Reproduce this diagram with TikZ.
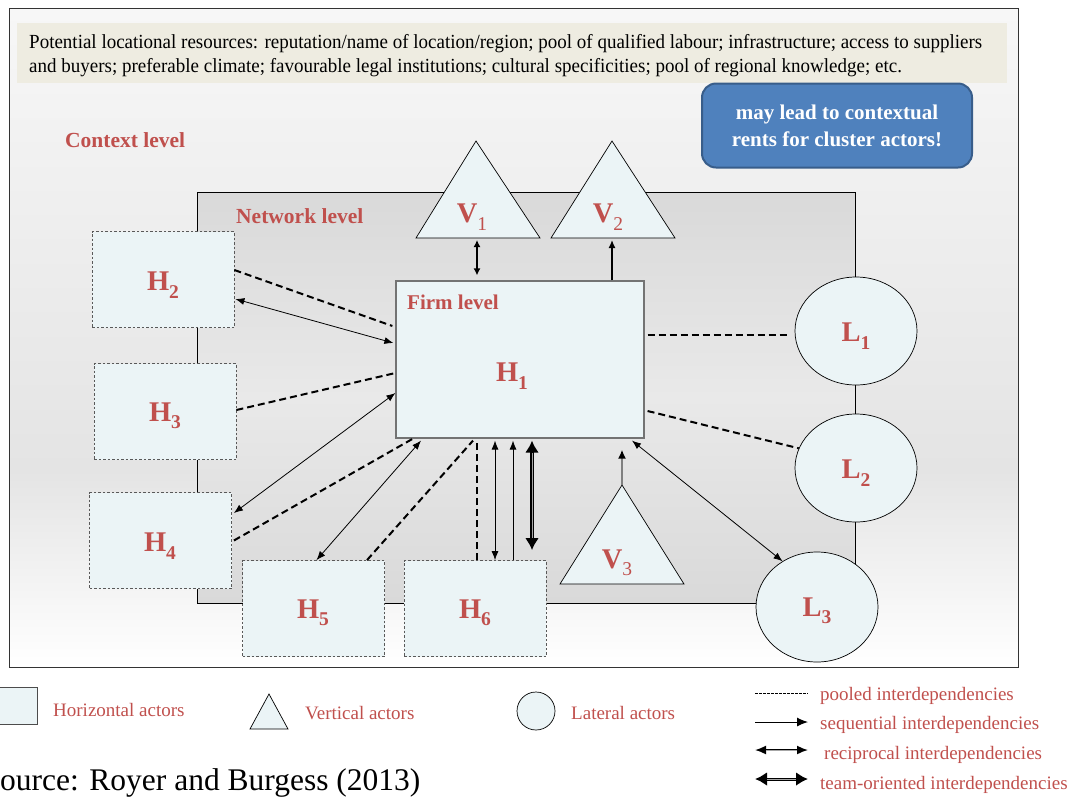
\documentclass[tikz,border=0pt]{standalone}
\usepackage{fontspec}
\setmainfont{Liberation Serif}
\newfontfamily\bandfont[FakeStretch=0.95]{Liberation Serif}
\usetikzlibrary{arrows.meta,shapes.geometric,calc}
\definecolor{actfill}{HTML}{EBF4F6}
\definecolor{lblred}{HTML}{C0504D}
\definecolor{bandfill}{HTML}{EEECE1}
\definecolor{blueb}{HTML}{4F81BD}
\definecolor{bluebd}{HTML}{385D8A}
\definecolor{ctxtop}{HTML}{F7F7F7}
\definecolor{ctxmid}{HTML}{E4E4E4}
\definecolor{nettop}{HTML}{D9D9D9}
\definecolor{netmid}{HTML}{E9E9E9}
\newcommand{\mysub}[1]{\raisebox{-7.5pt}{\fontsize{19.5}{19.5}\selectfont #1}}
\begin{document}
\begin{tikzpicture}[x=1pt,y=-1pt,
  hbox/.style={draw=black!65, dash pattern=on 2.5pt off 2pt, fill=actfill, line width=0.8pt, inner sep=0pt, minimum width=142pt, minimum height=96pt},
  lell/.style={ellipse, draw=black, fill=actfill, line width=0.7pt, inner sep=0pt, minimum width=122pt, minimum height=108pt},
  tri/.style={draw=black, fill=actfill, line width=0.7pt},
  actlbl/.style={text=lblred, font=\fontsize{28.5}{28.5}\selectfont\bfseries, inner sep=0pt},
  pooled/.style={line width=2pt, dash pattern=on 7pt off 4pt},
  seq/.style={line width=0.8pt, -{Latex[length=9pt,width=7pt]}},
  recip/.style={line width=0.8pt, {Latex[length=9pt,width=7pt]}-{Latex[length=9pt,width=7pt]}},
  legseqst/.style={line width=1pt, -{Latex[length=11pt,width=9pt]}},
  legrecst/.style={line width=1.6pt, {Latex[length=11pt,width=9pt]}-{Latex[length=11pt,width=9pt]}},
  team/.style={line width=3.4pt, {Latex[length=12pt,width=14pt]}-{Latex[length=12pt,width=14pt]}},
  teamcore/.style={line width=0.9pt, draw=black!35, shorten <=12pt, shorten >=12pt},
  lvlbl/.style={text=lblred, font=\fontsize{21.5}{22}\selectfont\bfseries, anchor=west, inner sep=0pt},
  legtxt/.style={text=lblred, font=\fontsize{19}{19}\selectfont, anchor=west, inner sep=0pt},
  bandtxt/.style={anchor=base west, inner sep=0pt, font=\fontsize{20}{24}\bandfont},
]
\useasboundingbox (0,0) rectangle (1073,796);
% context level background
\fill[top color=ctxtop, bottom color=ctxmid] (9,8) rectangle (1018,470);
\fill[top color=ctxmid, bottom color=white] (9,469.5) rectangle (1018,667);
\draw[black!80, line width=0.9pt] (9,8) rectangle (1018,667);
% band of resources
\node[fill=bandfill, minimum width=990pt, minimum height=60pt, inner sep=0pt] (band) at (512,53) {};
\node[bandtxt] (bandl1) at (29,48.5) {Potential locational resources: reputation/name of location/region; pool of qualified labour; infrastructure; access to suppliers};
\node[bandtxt] (bandl2) at (29,72.5) {and buyers; preferable climate; favourable legal institutions; cultural specificities; pool of regional knowledge; etc.};
% blue box
\node[draw=bluebd, line width=2pt, fill=blueb, rounded corners=14pt, minimum width=270pt, minimum height=84pt, text=white, font=\fontsize{21}{27}\selectfont\bfseries, align=center] (blue) at (837,125.5) {may lead to contextual\\rents for cluster actors!};
\node[lvlbl] (ctxlbl) at (65,140) {Context level};
% network level
\node[draw=black, line width=0.8pt, top color=nettop, bottom color=nettop, middle color=netmid, minimum width=658pt, minimum height=411pt, inner sep=0pt] (net) at (526,397.5) {};
\node[lvlbl] (netlbl) at (236,216) {Network level};
% vertical actors
\coordinate (v1a) at (476,141); \coordinate (v1l) at (416,238); \coordinate (v1r) at (540,238);
\draw[tri] (v1a) -- (v1r) -- (v1l) -- cycle;
\coordinate (v1b) at (477,238);
\node[actlbl] (v1) at (472,217) {V\mysub{\mdseries 1}};
\coordinate (v2a) at (612,141); \coordinate (v2l) at (551,238); \coordinate (v2r) at (675,238);
\draw[tri] (v2a) -- (v2r) -- (v2l) -- cycle;
\coordinate (v2b) at (612,238);
\node[actlbl] (v2) at (608,217) {V\mysub{\mdseries 2}};
\coordinate (v3a) at (622,485); \coordinate (v3l) at (560,584); \coordinate (v3r) at (684,584);
\draw[tri] (v3a) -- (v3r) -- (v3l) -- cycle;
\node[actlbl] (v3) at (617,563) {V\mysub{\mdseries 3}};
% horizontal actors
\node[hbox] (h2) at (163,279.5) {};
\node[actlbl] (h2l) at (163,285) {H\mysub{2}};
\node[hbox] (h3) at (165,411.5) {};
\node[actlbl] (h3l) at (165,416) {H\mysub{3}};
\node[hbox] (h4) at (160.5,540.5) {};
\node[actlbl] (h4l) at (160,546) {H\mysub{4}};
\node[hbox] (h5) at (313.5,608.5) {};
\node[actlbl] (h5l) at (313,613) {H\mysub{5}};
\node[hbox] (h6) at (475,608.5) {};
\node[actlbl] (h6l) at (475,613) {H\mysub{6}};
% firm level
\node[draw=black!55, line width=1.2pt, fill=actfill, minimum width=248pt, minimum height=157pt, inner sep=0pt] (h1) at (520,359.5) {};
\node[lvlbl, font=\fontsize{21}{22}\selectfont\bfseries] (firmlbl) at (407,302) {Firm level};
\node[actlbl] (h1l) at (512,376) {H\mysub{1}};
% lateral actors
\node[lell] (l1) at (856,331) {};
\node[actlbl] (l1l) at (856,336) {L\mysub{1}};
\node[lell] (l2) at (856,468) {};
\node[actlbl] (l2l) at (856,473) {L\mysub{2}};
\node[lell, minimum height=110pt] (l3) at (817,607) {};
\node[actlbl] (l3l) at (817,611) {L\mysub{3}};
% connectors: horizontal actors
\draw[pooled] ([yshift=9.5pt]h2.east) -- ([yshift=33.5pt,xshift=-3pt]h1.west);
\draw[recip] ([yshift=-19.5pt,xshift=1pt]h2.east) -- ([yshift=16.5pt,xshift=-2pt]h1.west);
\draw[pooled] ([yshift=1.5pt]h3.east) -- ([yshift=-13.5pt]h1.west);
\draw[recip] ([yshift=27.5pt,xshift=2pt]h4.east) -- ([yshift=-33.5pt]h1.west);
\draw[pooled] ([xshift=2pt]h4.east) -- ([xshift=-107pt]h1.south);
\draw[recip] ([xshift=3pt]h5.north) -- ([xshift=-99pt,yshift=-2pt]h1.south);
\draw[pooled] ([xshift=53.5pt]h5.north) -- ([xshift=-47pt,yshift=-2pt]h1.south);
\draw[pooled] ([xshift=2pt]h6.north) -- ([xshift=2pt,yshift=-2pt]h6.north |- h1.south);
\draw[recip] ([xshift=20pt]h6.north) -- ([xshift=20pt,yshift=-2pt]h6.north |- h1.south);
\draw[seq] ([xshift=38pt]h6.north) -- ([xshift=38pt,yshift=-2pt]h6.north |- h1.south);
\draw[team] ([xshift=57pt,yshift=10pt]h6.north) -- ([xshift=57pt,yshift=-2pt]h6.north |- h1.south);
\draw[teamcore] ([xshift=57pt,yshift=10pt]h6.north) -- ([xshift=57pt,yshift=-2pt]h6.north |- h1.south);
% connectors: vertical actors
\draw[line width=1.4pt, {Latex[length=7pt,width=7pt]}-{Latex[length=7pt,width=7pt]}] ([yshift=-2pt]v1b) -- ([yshift=5pt]v1b |- h1.north);
\draw[line width=1.4pt, -{Latex[length=8pt,width=7pt]}] (v2b |- h1.north) -- ([yshift=-2pt]v2b);
\draw[line width=2.2pt, draw=black!50, -{Latex[length=9pt,width=8pt,color=black]}] (v3a) -- ([yshift=-11pt]v3a |- h1.south);
% connectors: lateral actors
\draw[pooled] ([yshift=24.5pt,xshift=3pt]h1.east) -- ([yshift=-4pt,xshift=-7pt]l1.west);
\draw[pooled] ([yshift=-51.5pt,xshift=3pt]h1.east) -- (l2.161);
\draw[recip] ([xshift=112pt,yshift=-2pt]h1.south) -- (l3.127);
% legend
\node[draw=black!70, fill=actfill, line width=0.8pt, minimum width=46pt, minimum height=37pt, inner sep=0pt] (legsq) at (14,705.5) {};
\node[legtxt] (legh) at (53,710) {Horizontal actors};
\coordinate (lta) at (269,694); \coordinate (ltl) at (250,729); \coordinate (ltr) at (288,729);
\draw[tri] (lta) -- (ltr) -- (ltl) -- cycle;
\node[legtxt] (legv) at (305,713) {Vertical actors};
\node[ellipse, draw=black, fill=actfill, line width=0.7pt, minimum width=38pt, minimum height=38pt, inner sep=0pt] (legl) at (536,711) {};
\node[legtxt] (legla) at (571,713) {Lateral actors};
\coordinate (lp1) at (755,693); \coordinate (lp2) at (808,693);
\draw[line width=0.6pt, dash pattern=on 2.5pt off 1.5pt] (lp1) -- (lp2);
\node[legtxt] (legpool) at (820,696) {pooled interdependencies};
\coordinate (ls1) at (755,722); \coordinate (ls2) at (808,722);
\draw[legseqst] (ls1) -- (ls2);
\node[legtxt] (legseq) at (820,725) {sequential interdependencies};
\coordinate (lr1) at (755,750); \coordinate (lr2) at (808,750);
\draw[legrecst] (lr1) -- (lr2);
\draw[line width=0.5pt, draw=black!35, shorten <=11pt, shorten >=11pt] (lr1) -- (lr2);
\node[legtxt] (legrec) at (824,755) {reciprocal interdependencies};
\coordinate (lt1) at (755,779); \coordinate (lt2) at (808,779);
\draw[team, line width=3pt] (lt1) -- (lt2);
\draw[teamcore] (lt1) -- (lt2);
\node[legtxt] (legteam) at (820,785) {team-oriented interdependencies};
% source (its first letter lies outside the picture's left edge)
\node[anchor=base west, inner sep=0pt, font=\fontsize{31.5}{31.5}\selectfont] (src) at (0,790) {ource: Royer and Burgess (2013)};
\end{tikzpicture}
\end{document}
